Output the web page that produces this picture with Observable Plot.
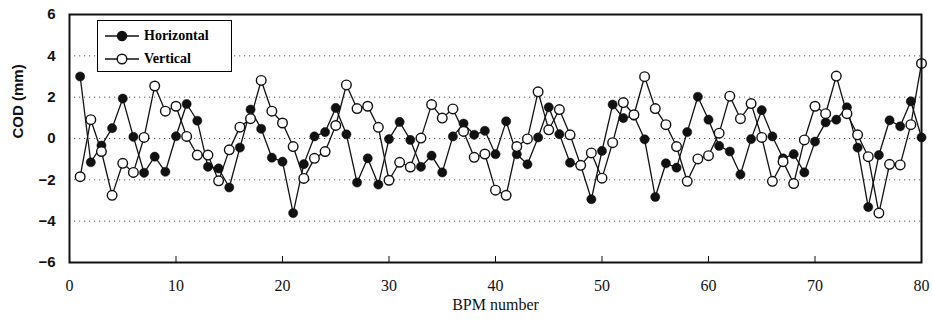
<!DOCTYPE html>
<html><head><meta charset="utf-8">
<script src="https://cdn.jsdelivr.net/npm/d3@7"></script>
<script src="https://cdn.jsdelivr.net/npm/@observablehq/plot@0.6"></script>
<style>
body{margin:0;background:#fff;}
#wrap{position:relative;width:932px;height:322px;}
#legend{position:absolute;left:97px;top:20px;width:135px;height:52px;border:1.5px solid #000;background:#fff;box-sizing:border-box;font-family:"Liberation Serif",serif;font-weight:bold;font-size:14px;}
#legend .row{position:absolute;left:6px;height:20px;display:flex;align-items:center;}
#legend svg{margin-right:4px;}
</style></head>
<body><div id="wrap"></div>
<script>
const bpm = [1,2,3,4,5,6,7,8,9,10,11,12,13,14,15,16,17,18,19,20,21,22,23,24,25,26,27,28,29,30,31,32,33,34,35,36,37,38,39,40,41,42,43,44,45,46,47,48,49,50,51,52,53,54,55,56,57,58,59,60,61,62,63,64,65,66,67,68,69,70,71,72,73,74,75,76,77,78,79,80];
const horizontal = [3.0,-1.15,-0.34,0.5,1.93,0.08,-1.66,-0.88,-1.61,0.11,1.67,0.86,-1.37,-1.45,-2.37,-0.44,1.4,0.47,-0.93,-1.12,-3.61,-1.24,0.1,0.31,1.48,0.2,-2.13,-0.96,-2.23,-0.03,0.8,-0.07,-1.37,-0.83,-1.64,0.1,0.72,0.18,0.37,-0.76,0.83,-0.76,-1.25,0.05,1.51,0.21,-1.17,-1.3,-2.94,-0.6,1.64,0.99,1.1,-0.04,-2.83,-1.2,-1.41,0.31,2.02,0.91,-0.36,-0.63,-1.74,-0.03,1.37,0.1,-0.96,-0.76,-1.64,-0.15,0.78,0.91,1.51,-0.44,-3.32,-0.8,0.88,0.59,1.8,0.05];
const vertical = [-1.85,0.91,-0.63,-2.75,-1.2,-1.64,0.05,2.54,1.32,1.56,0.1,-0.8,-0.8,-2.05,-0.55,0.55,0.96,2.81,1.32,0.75,-0.39,-1.93,-0.96,-0.63,0.63,2.59,1.45,1.56,0.54,-2.02,-1.15,-1.38,0.02,1.64,0.99,1.43,0.34,-0.91,-0.75,-2.5,-2.75,-0.39,-0.02,2.26,0.42,1.4,0.18,-1.3,-0.7,-1.92,-0.2,1.74,1.15,2.99,1.45,0.67,-0.39,-2.07,-0.99,-0.83,0.26,2.05,0.96,1.69,0.05,-2.07,-1.12,-2.18,-0.07,1.56,1.2,3.02,1.2,0.18,-0.88,-3.61,-1.25,-1.28,0.67,3.63];
const seriesNames = ["Horizontal", "Vertical"];
const xTicks = [0,10,20,30,40,50,60,70,80];
const yTicks = [-6,-4,-2,0,2,4,6];
const gridValues = [-4,-2,0,2,4];
const xLabel = "BPM number";
const yLabel = "COD (mm)";

const hData = bpm.map((b, i) => ({bpm: b, cod: horizontal[i]}));
const vData = bpm.map((b, i) => ({bpm: b, cod: vertical[i]}));

const chart = Plot.plot({
  width: 932,
  height: 322,
  marginLeft: 69,
  marginRight: 11,
  marginTop: 14,
  marginBottom: 60,
  x: {domain: [0, 80]},
  y: {domain: [-6, 6]},
  style: {background: "white"},
  marks: [
    Plot.gridY(gridValues, {stroke: "#444", strokeOpacity: 0.9, strokeDasharray: "1.2,3.8", strokeWidth: 1}),
    Plot.axisY({ticks: yTicks, tickSize: 0, tickPadding: 14, label: null, fontFamily: "Liberation Sans, Arial, sans-serif", fontWeight: "bold", fontSize: 15, fill: "#111"}),
    Plot.axisX({ticks: xTicks, tickSize: 0, tickPadding: 17, label: null, fontFamily: "Liberation Serif, serif", fontSize: 16, fill: "#111"}),
    Plot.axisX({ticks: xTicks, tickSize: -6, tickFormat: () => "", label: null, stroke: "#111"}),
    Plot.text([xLabel], {frameAnchor: "bottom", dy: 47, fontFamily: "Liberation Serif, serif", fontSize: 16, fill: "#111"}),
    Plot.text([yLabel], {frameAnchor: "left", dx: -51, rotate: -90, fontFamily: "Liberation Sans, Arial, sans-serif", fontWeight: "bold", fontSize: 15, fill: "#111"}),
    Plot.line(hData, {x: "bpm", y: "cod", stroke: "#111", strokeWidth: 1.3}),
    Plot.line(vData, {x: "bpm", y: "cod", stroke: "#111", strokeWidth: 1.3}),
    Plot.dot(hData, {x: "bpm", y: "cod", r: 4.6, fill: "#111", stroke: "#111", strokeWidth: 0.5}),
    Plot.dot(vData, {x: "bpm", y: "cod", r: 4.8, fill: "white", stroke: "#111", strokeWidth: 1.4}),
    Plot.frame({stroke: "#111", strokeWidth: 2})
  ]
});

const wrap = document.getElementById("wrap");
wrap.appendChild(chart);

const legend = document.createElement("div");
legend.id = "legend";
seriesNames.forEach((name, i) => {
  const row = document.createElement("div");
  row.className = "row";
  row.style.top = (5 + i * 23) + "px";
  const filled = i === 0;
  row.innerHTML = `<svg width="36" height="14"><line x1="1" y1="7" x2="35" y2="7" stroke="#111" stroke-width="1.4"/><circle cx="18" cy="7" r="${filled ? 4.5 : 4.8}" fill="${filled ? "#111" : "white"}" stroke="#111" stroke-width="1.4"/></svg><span>${name}</span>`;
  legend.appendChild(row);
});
wrap.appendChild(legend);
</script>
</body></html>
